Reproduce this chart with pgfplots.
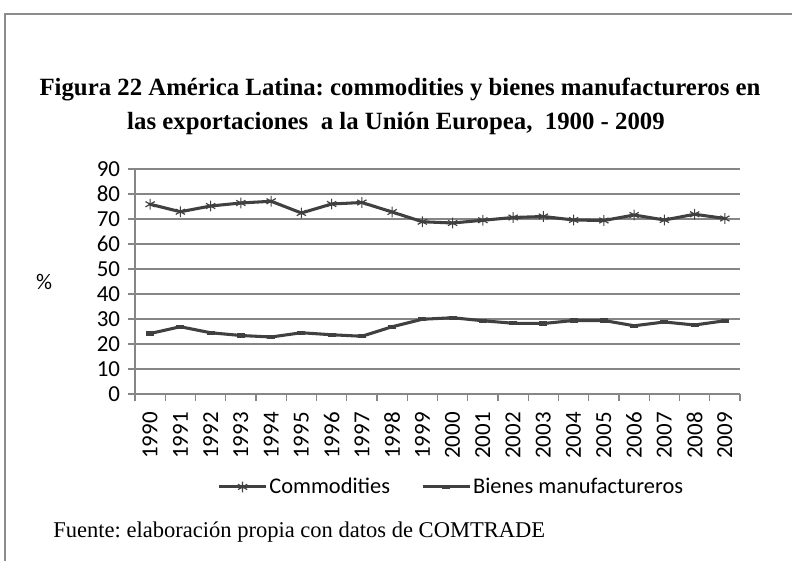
\documentclass[border=0pt]{standalone}
\usepackage{fontspec}
\setmainfont{Liberation Serif}
\newfontfamily\calibri{Carlito}
\usepackage{pgfplots}
\pgfplotsset{compat=1.18}
\frenchspacing
\definecolor{gridgray}{RGB}{134,134,134}
\definecolor{linegray}{RGB}{64,64,64}
\definecolor{framegray}{RGB}{140,140,140}

\pgfplotstableread{
year comm bienes
1990 75.9 24.2
1991 72.9 26.9
1992 75.2 24.5
1993 76.4 23.4
1994 77.1 22.8
1995 72.4 24.5
1996 76.0 23.7
1997 76.6 23.1
1998 72.8 26.9
1999 68.9 29.9
2000 68.4 30.5
2001 69.5 29.3
2002 70.6 28.3
2003 71.0 28.2
2004 69.6 29.4
2005 69.4 29.4
2006 71.6 27.3
2007 69.6 28.8
2008 71.9 27.6
2009 70.2 29.3
}\exports

\begin{document}
\begin{tikzpicture}
% page = 792x561 px, 1 px = 0.75pt
\useasboundingbox (0,0) rectangle (594pt,420.75pt);
\draw[framegray,line width=0.8pt] (3.75pt,0) -- (3.75pt,410.25pt) -- (594pt,410.25pt);

\node[anchor=base,font=\bfseries\fontsize{18.6}{22}\selectfont] at (300pt,348.75pt)
  {Figura 22 América Latina: commodities y bienes manufactureros en};
\node[anchor=base,font=\bfseries\fontsize{18.6}{22}\selectfont] at (297pt,323.25pt)
  {las exportaciones\ \ a la Unión Europea,\ \ 1900 - 2009};
\node[anchor=base west,font=\fontsize{16.9}{20}\selectfont,inner sep=0pt] at (39.75pt,18pt)
  {Fuente: elaboración propia con datos de COMTRADE};

\begin{axis}[at={(101.25pt,125.25pt)},anchor=south west,
  scale only axis,width=453.75pt,height=168.75pt,
  xmin=1989.5,xmax=2009.5,ymin=0,ymax=90,
  xtick={1990,...,2009},minor xtick={1989.5,1990.5,...,2009.5},
  ytick={0,10,...,90},
  axis x line*=bottom,axis y line*=left,
  axis line style={gridgray,line width=0.8pt,-},
  tick align=outside,major tick length=5pt,minor tick length=5pt,
  major x tick style={draw=none},
  minor x tick style={gridgray,line width=0.8pt},
  major y tick style={gridgray,line width=0.8pt},
  ymajorgrids,grid style={gridgray,line width=0.8pt},
  tick label style={font=\calibri\fontsize{17.2}{20}\selectfont},
  /pgf/number format/assume math mode=true,
  x tick label style={/pgf/number format/1000 sep={},rotate=90,anchor=east,inner sep=8.5pt},
  y tick label style={inner sep=6pt},
  ylabel={\calibri\fontsize{16.8}{20}\selectfont \%},
  ylabel style={at={(axis description cs:-0.150,0.5)},rotate=-90,anchor=center},
  legend columns=2,
  legend style={at={(0.523,-0.413)},anchor=center,draw=none,fill=none,
    font=\calibri\fontsize{16.8}{20}\selectfont,inner sep=0pt,
    nodes={inner sep=1.5pt},
    /tikz/every even column/.append style={column sep=22pt}},
  legend image code/.code={\draw[mark repeat=2,mark phase=2,#1]
    plot coordinates {(0pt,0pt)(17.5pt,0pt)(35pt,0pt)};},
  clip=false]
\addplot[linegray,line width=2.3pt,mark=asterisk,mark size=4pt,
  mark options={solid,line width=0.9pt}] table[x=year,y=comm] {\exports};
\addplot[linegray,line width=2.3pt,mark=-,mark size=3pt,
  mark options={solid,line width=3.2pt}] table[x=year,y=bienes] {\exports};
\legend{Commodities,Bienes manufactureros}
\end{axis}
\end{tikzpicture}
\end{document}
